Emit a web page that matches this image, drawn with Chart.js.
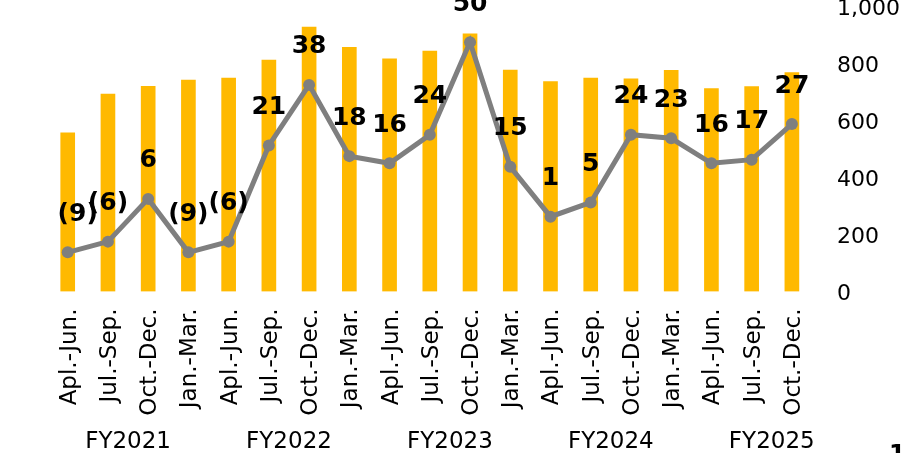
<!DOCTYPE html>
<html>
<head>
<meta charset="utf-8">
<script src="https://cdn.jsdelivr.net/npm/chart.js@4.4.1/dist/chart.umd.min.js"></script>
<style>
  html, body { margin: 0; padding: 0; background: #fff; }
  #wrap { width: 904px; height: 453px; overflow: hidden; }
</style>
</head>
<body>
<div id="wrap"><canvas id="chart" width="904" height="453"></canvas></div>
<script>
/* values */
const quarters = [
  "Apl.-Jun.", "Jul.-Sep.", "Oct.-Dec.", "Jan.-Mar.",
  "Apl.-Jun.", "Jul.-Sep.", "Oct.-Dec.", "Jan.-Mar.",
  "Apl.-Jun.", "Jul.-Sep.", "Oct.-Dec.", "Jan.-Mar.",
  "Apl.-Jun.", "Jul.-Sep.", "Oct.-Dec.", "Jan.-Mar.",
  "Apl.-Jun.", "Jul.-Sep.", "Oct.-Dec."
];
const fiscalYears = ["FY2021", "FY2022", "FY2023", "FY2024", "FY2025"];
const barValues = [557, 693, 720, 742, 749, 812, 928, 857, 816, 844, 904, 777, 737, 749, 746, 776, 712, 719, 768];
const lineValues = [-9, -6, 6, -9, -6, 21, 38, 18, 16, 24, 50, 15, 1, 5, 24, 23, 16, 17, 27];
const rightTicks = [0, 200, 400, 600, 800, 1000];

const BAR_GOLD = "#FFB900";
const LINE_GREY = "#7F7F7F";
const FONT = "'DejaVu Sans', Verdana, sans-serif";

const overlay = {
  id: "overlay",
  afterDatasetsDraw(chart) {
    const ctx = chart.ctx;
    const meta = chart.getDatasetMeta(0);
    ctx.save();
    ctx.fillStyle = "#000";
    ctx.textAlign = "center";
    ctx.textBaseline = "middle";
    ctx.font = "bold 25px " + FONT;
    meta.data.forEach((pt, i) => {
      const v = lineValues[i];
      const txt = v < 0 ? "(" + (-v) + ")" : String(v);
      const dx = i === 0 ? 10 : 0; // first label sits a bit to the right
      ctx.fillText(txt, pt.x + dx, pt.y - 38);
    });

    // fiscal year group labels, each centred on its 4 quarters
    const x = chart.scales.x;
    const step = x.getPixelForValue(1) - x.getPixelForValue(0);
    ctx.font = "23px " + FONT;
    fiscalYears.forEach((fy, k) => {
      const cx = x.getPixelForValue(0) + (k * 4 + 1.5) * step;
      ctx.fillText(fy, cx, 442);
    });

    // stray page mark cut off at the bottom right
    ctx.textAlign = "left";
    ctx.textBaseline = "alphabetic";
    ctx.font = "bold 24px " + FONT;
    ctx.fillText("1", 889, 462);
    ctx.restore();
  }
};

renderChart();

function renderChart() {
  new Chart(document.getElementById("chart").getContext("2d"), {
    type: "bar",
    data: {
      labels: quarters,
      datasets: [
        {
          type: "line",
          data: lineValues,
          yAxisID: "y1",
          borderColor: LINE_GREY,
          backgroundColor: LINE_GREY,
          borderWidth: 5,
          pointRadius: 6,
          pointBackgroundColor: LINE_GREY,
          pointBorderWidth: 0,
          tension: 0,
          order: 0,
        },
        {
          type: "bar",
          data: barValues,
          yAxisID: "y",
          backgroundColor: BAR_GOLD,
          barThickness: 14,
          order: 1,
        },
      ],
    },
    options: {
      responsive: false,
      animation: false,
      events: [],
      layout: { padding: { left: 47.6, top: 6.5, right: 0, bottom: 0 } },
      plugins: { legend: { display: false }, tooltip: { enabled: false } },
      scales: {
        x: {
          grid: { display: false, drawTicks: false },
          border: { display: false },
          ticks: {
            color: "#000",
            font: { family: FONT, size: 23 },
            maxRotation: 90,
            minRotation: 90,
            autoSkip: false,
            padding: 17,
            labelOffset: 2,
          },
          afterFit(s) {
            s.height = 161.5;
            s.paddingLeft = 0;
            s.paddingRight = 0;
          },
        },
        y: {
          position: "right",
          min: 0,
          max: 1000,
          grid: { display: false, drawTicks: false },
          border: { display: false },
          afterBuildTicks(s) {
            s.ticks = rightTicks.map((v) => ({ value: v }));
          },
          ticks: {
            color: "#000",
            font: { family: FONT, size: 22 },
            padding: 25,
            labelOffset: 3,
            callback: (v) => v.toLocaleString("en-US"),
          },
          afterFit(s) {
            s.width = 92;
            s.paddingTop = 0;
            s.paddingBottom = 0;
          },
        },
        y1: {
          display: false,
          position: "left",
          min: -20,
          max: 60,
        },
      },
    },
    plugins: [overlay],
  });
}
</script>
</body>
</html>
